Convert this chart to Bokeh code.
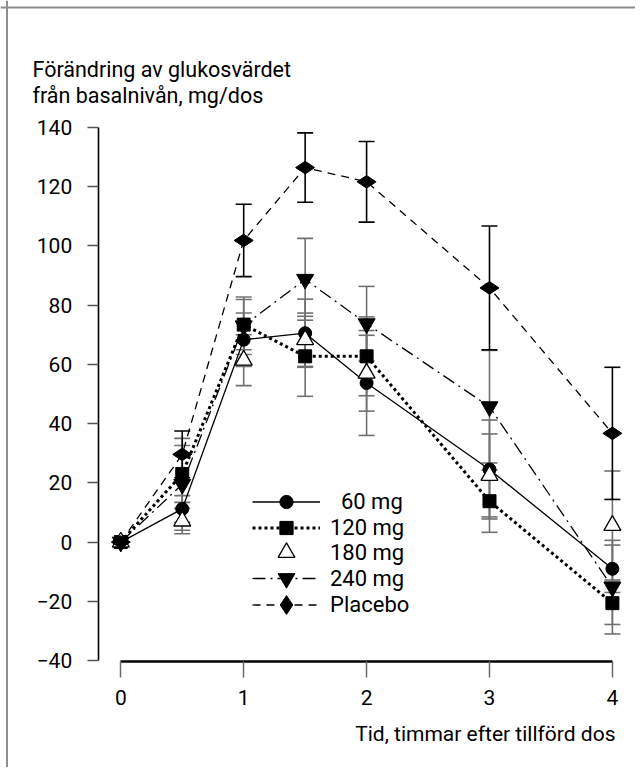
from bokeh.plotting import figure
from bokeh.models import (Range1d, FixedTicker, Whisker, TeeHead, ColumnDataSource,
                          Legend, LegendItem, Label, Span)
from bokeh.embed import file_html
from bokeh.resources import INLINE

# ---------------- data ----------------
times = [0, 0.5, 1, 1.5, 2, 3, 4]

mg60 = [0, 11.2, 68.3, 70.5, 53.7, 24.5, -9.0]
mg60_err = [0, 4.5, 9.0, 11.5, 17.7, 16.7, 8.0]

mg120 = [0, 23.0, 73.4, 62.7, 62.7, 13.8, -20.6]
mg120_err = [0, 9.6, 8.5, 13.5, 13.3, 10.5, 7.2]

mg180 = [0, 7.1, 61.4, 68.3, 57.0, 22.5, 5.6]
mg180_err = [0, 4.3, 8.6, 9.0, 12.8, 14.0, 18.4]

mg240 = [0, 19.5, 73.0, 88.7, 73.7, 45.7, -15.2]
mg240_err = [0, 15.5, 9.7, 13.8, 12.6, 19.0, 15.8]

placebo = [0, 29.6, 101.8, 126.4, 121.6, 85.8, 36.7]
placebo_err = [0, 7.9, 12.2, 11.7, 13.6, 20.9, 22.3]

series_labels = ["\u00a0\u00a060 mg", "120 mg", "180 mg", "240 mg", "Placebo"]

x_ticks = [0, 1, 2, 3, 4]
y_ticks = [-40, -20, 0, 20, 40, 60, 80, 100, 120, 140]
y_tick_labels = ["\u221240", "\u221220", "0", "20", "40", "60", "80", "100", "120", "140"]

y_title = ["Förändring av glukosvärdet", "från basalnivån, mg/dos"]
x_title = "Tid, timmar efter tillförd dos"

FONT = "Roboto"
W, H = 635, 767

# ---------------- figure (frame fills the whole canvas) ----------------
p = figure(width=W, height=H,
           x_range=Range1d(-0.9788, 4.188), y_range=Range1d(-76.07, 182.79),
           output_backend="svg", toolbar_location=None, min_border=0)
p.xgrid.visible = False
p.ygrid.visible = False
p.outline_line_color = None
p.background_fill_color = "white"
p.border_fill_color = "white"

# frame lines of the figure box (left and top)
p.add_layout(Span(location=-0.926, dimension="height", line_color="#8c8c8c", line_width=2))
p.add_layout(Span(location=180.4, dimension="width", line_color="#8c8c8c", line_width=2))

# x axis
xa = p.xaxis[0]
xa.fixed_location = -40.3
xa.ticker = FixedTicker(ticks=x_ticks)
xa.bounds = (0, 4)
xa.axis_line_width = 2.7
xa.axis_line_color = "black"
xa.major_tick_out = 16
xa.major_tick_in = 0
xa.minor_tick_line_color = None
xa.major_tick_line_color = "#6a6a6a"
xa.major_tick_line_width = 1.5
xa.major_label_standoff = 12
xa.major_label_text_font = FONT
xa.major_label_text_font_size = "21px"
xa.major_label_text_color = "black"

# y axis
ya = p.yaxis[0]
ya.fixed_location = -0.1839
ya.ticker = FixedTicker(ticks=y_ticks)
ya.major_label_overrides = {t: l for t, l in zip(y_ticks, y_tick_labels)}
ya.bounds = (-40, 140)
ya.axis_line_width = 1.6
ya.axis_line_color = "black"
ya.major_tick_out = 11
ya.major_tick_in = 0
ya.minor_tick_line_color = None
ya.major_tick_line_color = "#555555"
ya.major_tick_line_width = 1.5
ya.major_label_standoff = 15
ya.major_label_text_font = FONT
ya.major_label_text_font_size = "21px"
ya.major_label_text_color = "black"


def add_errors(vals, errs, color):
    xs = [t for t, e in zip(times, errs) if e > 0]
    up = [v + e for v, e in zip(vals, errs) if e > 0]
    lo = [v - e for v, e in zip(vals, errs) if e > 0]
    src = ColumnDataSource(dict(x=xs, upper=up, lower=lo))
    w = Whisker(base="x", upper="upper", lower="lower", source=src,
                dimension="height", line_color=color, line_width=1.6,
                upper_head=TeeHead(size=16, line_color=color, line_width=1.6),
                lower_head=TeeHead(size=16, line_color=color, line_width=1.6))
    p.add_layout(w)


GRAY = "#707070"
add_errors(mg60, mg60_err, GRAY)
add_errors(mg120, mg120_err, GRAY)
add_errors(mg180, mg180_err, GRAY)
add_errors(mg240, mg240_err, GRAY)
add_errors(placebo, placebo_err, "black")

# lines
l60 = p.line(times, mg60, line_color="black", line_width=1.3)
l120 = p.line(times, mg120, line_color="black", line_width=3, line_dash="3 3")
l240 = p.line(times, mg240, line_color="black", line_width=1.3, line_dash="13 5 2 5")
lpl = p.line(times, placebo, line_color="black", line_width=1.3, line_dash="8 6")

# markers
s60 = p.scatter(times, mg60, marker="circle", size=13, fill_color="black", line_color="black")
s120 = p.scatter(times, mg120, marker="square", size=13, fill_color="black", line_color="black")
s180 = p.scatter(times, mg180, marker="triangle", size=17, fill_color="white",
                 line_color="black", line_width=1.3)
s240 = p.scatter(times, mg240, marker="inverted_triangle", size=17, fill_color="black",
                 line_color="black")
spl = p.scatter(times, placebo, marker="diamond", size=19, angle=1.5708,
                fill_color="black", line_color="black")

# legend: one small legend per row, so the rows can sit close together
legend_rows = [
    (series_labels[0], [l60, s60], 33),
    (series_labels[1], [l120, s120], 33),
    (series_labels[2], [s180], 42),
    (series_labels[3], [l240, s240], 42),
    (series_labels[4], [lpl, spl], 47),
]
row_centers_px = [501, 527, 552, 578, 604]   # screen rows of the legend
for (lab, rends, gh), cy in zip(legend_rows, row_centers_px):
    lg = Legend(items=[LegendItem(label=lab, renderers=rends)],
                location=(252, H - (cy + gh / 2)), glyph_width=68, glyph_height=gh,
                label_height=20, spacing=0, padding=0, margin=0, label_standoff=10,
                border_line_color=None, background_fill_alpha=0,
                label_text_font=FONT, label_text_font_size="22px",
                label_text_color="black")
    p.add_layout(lg)

# titles
p.add_layout(Label(x=-0.7185, y=159.5, text=y_title[0], text_font=FONT,
                   text_font_size="21.5px", text_baseline="alphabetic", text_align="left",
                   text_color="black"))
p.add_layout(Label(x=-0.7185, y=150.8, text=y_title[1], text_font=FONT,
                   text_font_size="21.5px", text_baseline="alphabetic", text_align="left",
                   text_color="black"))
p.add_layout(Label(x=4.025, y=-64.93, text=x_title, text_font=FONT,
                   text_font_size="21px", text_baseline="alphabetic", text_align="right",
                   text_color="black"))

open("out.html", "w").write(file_html(p, INLINE))
